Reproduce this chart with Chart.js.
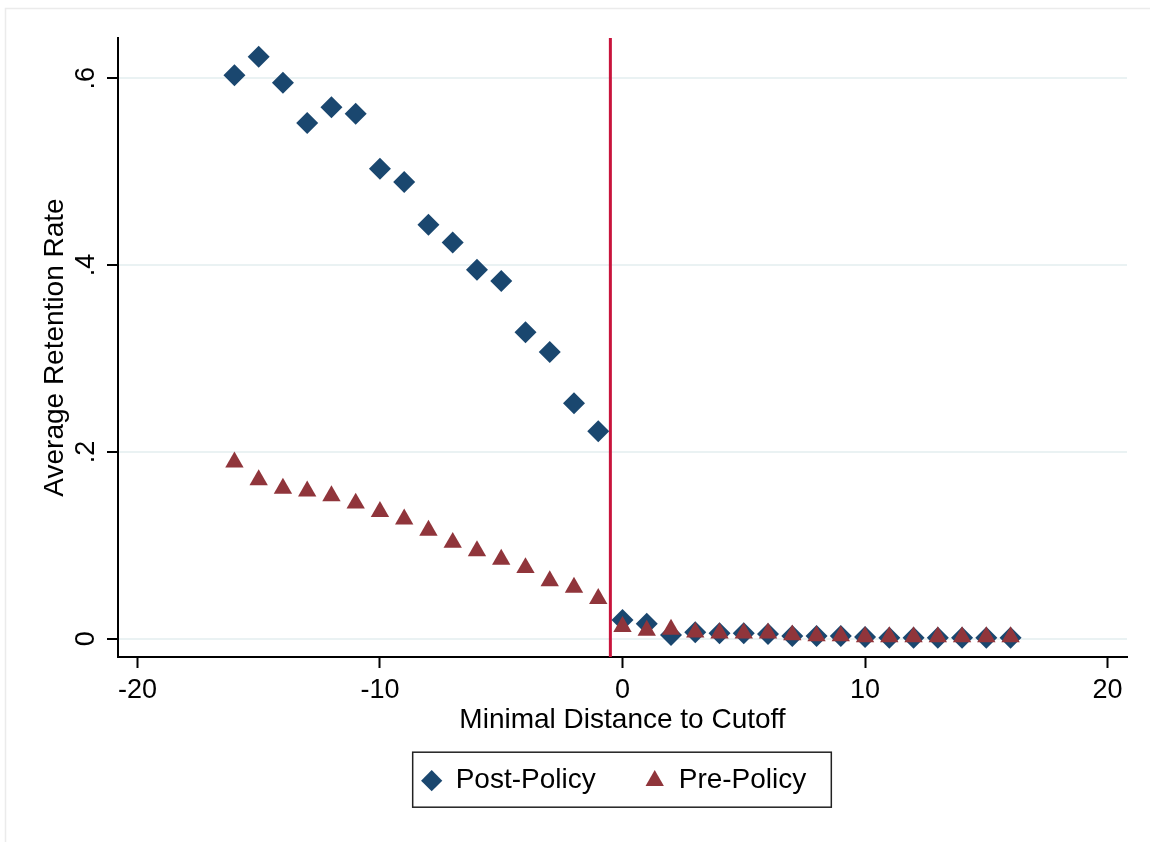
<!DOCTYPE html>
<html>
<head>
    <title>Average Retention Rate by Minimal Distance to Cutoff</title>
    <script src="https://cdn.jsdelivr.net/npm/chart.js"></script>
    <style>
        html, body {
            margin: 0;
            padding: 0;
            background-color: #fff;
        }
        .chart-container {
            width: 1150px;
            height: 842px;
        }
    </style>
</head>
<body>
    <div class="chart-container">
        <canvas id="retentionChart" width="1150" height="842"></canvas>
    </div>

    <script>
        // values
        var distance = [-16, -15, -14, -13, -12, -11, -10, -9, -8, -7, -6, -5, -4, -3, -2, -1,
                        0, 1, 2, 3, 4, 5, 6, 7, 8, 9, 10, 11, 12, 13, 14, 15, 16];
        var postPolicy = [0.603, 0.623, 0.595, 0.552, 0.569, 0.562, 0.503, 0.489, 0.443, 0.424, 0.395, 0.383, 0.328, 0.307, 0.252, 0.222,
                          0.020, 0.016, 0.004, 0.007, 0.006, 0.006, 0.005, 0.003, 0.003, 0.003, 0.002, 0.001, 0.001, 0.001, 0.001, 0.001, 0.001];
        var prePolicy = [0.189, 0.170, 0.161, 0.158, 0.153, 0.145, 0.136, 0.128, 0.116, 0.103, 0.094, 0.085, 0.076, 0.062, 0.055, 0.043,
                         0.013, 0.009, 0.010, 0.007, 0.006, 0.006, 0.006, 0.004, 0.003, 0.003, 0.002, 0.002, 0.002, 0.002, 0.002, 0.002, 0.002];
        var xTicks = [-20, -10, 0, 10, 20];
        var yTicks = [0, 0.2, 0.4, 0.6];
        var cutoff = -0.5;

        var navy = '#1a476f';
        var maroon = '#90353b';

        function toPoints(values) {
            return distance.map(function (d, i) { return { x: d, y: values[i] }; });
        }

        // white page, faint frame, cutoff line and the legend box
        var decorations = {
            id: 'decorations',
            beforeDraw: function (chart) {
                var ctx = chart.ctx;
                ctx.save();
                ctx.fillStyle = '#fff';
                ctx.fillRect(0, 0, chart.width, chart.height);
                ctx.strokeStyle = '#ebebeb';
                ctx.lineWidth = 1.5;
                ctx.beginPath();
                ctx.moveTo(5.5, chart.height);
                ctx.lineTo(5.5, 8.5);
                ctx.lineTo(chart.width, 8.5);
                ctx.stroke();
                ctx.restore();
            },
            afterLayout: function (chart) {
                // Stata centres the framed box, not the items
                chart.legend.left -= 8.5;
                chart.legend.right -= 8.5;
            },
            beforeDatasetsDraw: function (chart) {
                var ctx = chart.ctx;
                var x = chart.scales.x.getPixelForValue(cutoff);
                ctx.save();
                ctx.strokeStyle = '#c8143c';
                ctx.lineWidth = 3;
                ctx.beginPath();
                ctx.moveTo(x, chart.chartArea.top);
                ctx.lineTo(x, chart.chartArea.bottom);
                ctx.stroke();
                ctx.restore();
            },
            afterDraw: function (chart) {
                var boxes = chart.legend.legendHitBoxes;
                if (!boxes || !boxes.length) return;
                var first = boxes[0];
                var last = boxes[boxes.length - 1];
                var mid = first.top + first.height / 2;
                var ctx = chart.ctx;
                ctx.save();
                ctx.strokeStyle = '#222';
                ctx.lineWidth = 1.5;
                ctx.strokeRect(first.left - 9, mid - 28.5, (last.left + last.width + 25) - (first.left - 9), 55);
                ctx.restore();
            }
        };

        var ctx = document.getElementById('retentionChart').getContext('2d');
        var retentionChart = new Chart(ctx, {
            type: 'scatter',
            data: {
                datasets: [{
                    label: 'Pre-Policy',
                    data: toPoints(prePolicy),
                    pointStyle: 'triangle',
                    pointRadius: 10.6,
                    pointHoverRadius: 10.6,
                    backgroundColor: maroon,
                    borderColor: maroon,
                    borderWidth: 0
                }, {
                    label: 'Post-Policy',
                    data: toPoints(postPolicy),
                    pointStyle: 'rectRot',
                    pointRadius: 11,
                    pointHoverRadius: 11,
                    backgroundColor: navy,
                    borderColor: navy,
                    borderWidth: 0
                }]
            },
            options: {
                responsive: false,
                devicePixelRatio: 1,
                animation: false,
                events: [],
                layout: {
                    padding: { top: 38, right: 23, bottom: 37.3, left: 0 }
                },
                plugins: {
                    tooltip: { enabled: false },
                    legend: {
                        position: 'bottom',
                        fullSize: false,
                        labels: {
                            usePointStyle: true,
                            boxWidth: 20,
                            boxHeight: 15,
                            padding: 49,
                            color: '#000',
                            font: { family: "'Liberation Sans', Arial, sans-serif", size: 28 },
                            sort: function (a, b) { return b.datasetIndex - a.datasetIndex; }
                        }
                    }
                },
                scales: {
                    x: {
                        type: 'linear',
                        position: 'bottom',
                        min: -20.8,
                        max: 20.8,
                        afterBuildTicks: function (scale) {
                            scale.ticks = xTicks.map(function (v) { return { value: v }; });
                        },
                        afterFit: function (scale) {
                            scale.height = 60.7;
                        },
                        ticks: {
                            autoSkip: false,
                            maxRotation: 0,
                            padding: 6,
                            color: '#000',
                            font: { family: "'Liberation Sans', Arial, sans-serif", size: 27 }
                        },
                        grid: {
                            drawOnChartArea: false,
                            drawTicks: true,
                            tickLength: 11,
                            tickColor: '#000',
                            tickWidth: 2
                        },
                        border: { color: '#000', width: 2 },
                        title: {
                            display: true,
                            text: 'Minimal Distance to Cutoff',
                            color: '#000',
                            font: { family: "'Liberation Sans', Arial, sans-serif", size: 28 },
                            padding: { top: 0, bottom: -19.7 }
                        }
                    },
                    y: {
                        type: 'linear',
                        min: -0.0195,
                        max: 0.643,
                        afterBuildTicks: function (scale) {
                            scale.ticks = yTicks.map(function (v) { return { value: v }; });
                        },
                        afterFit: function (scale) {
                            scale.width = 118;
                        },
                        ticks: {
                            minRotation: 90,
                            maxRotation: 90,
                            crossAlign: 'center',
                            padding: 9,
                            color: '#000',
                            font: { family: "'Liberation Sans', Arial, sans-serif", size: 27 },
                            callback: function (v) {
                                return v === 0 ? '0' : String(v).replace(/^0/, '');
                            }
                        },
                        grid: {
                            color: '#eaf2f3',
                            lineWidth: 2,
                            drawTicks: true,
                            tickLength: 11,
                            tickColor: '#000',
                            tickWidth: 2
                        },
                        border: { color: '#000', width: 2 },
                        title: {
                            display: true,
                            text: 'Average Retention Rate',
                            color: '#000',
                            font: { family: "'Liberation Sans', Arial, sans-serif", size: 28 },
                            padding: { top: 38, bottom: 0 }
                        }
                    }
                }
            },
            plugins: [decorations]
        });
    </script>
</body>
</html>
